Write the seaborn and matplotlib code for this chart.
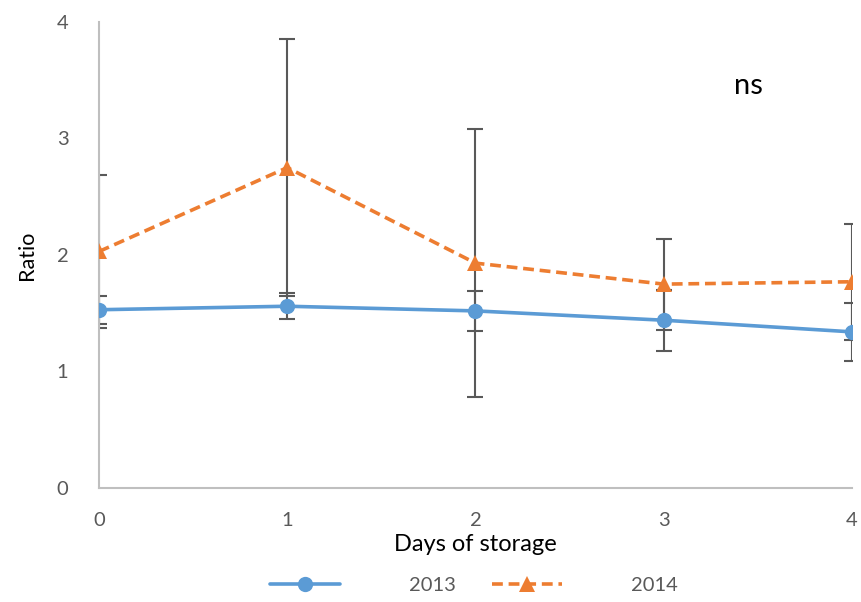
import matplotlib
matplotlib.use("Agg")
import matplotlib.pyplot as plt
import seaborn as sns
import pandas as pd
from matplotlib.lines import Line2D

days = [0, 1, 2, 3, 4]
ratio_2013 = [1.53, 1.56, 1.52, 1.44, 1.34]
err_2013 = [0.12, 0.11, 0.17, 0.26, 0.25]
ratio_2014 = [2.03, 2.75, 1.93, 1.75, 1.77]
err_2014 = [0.66, 1.10, 1.15, 0.39, 0.50]
series_names = ["2013", "2014"]

blue = "#5B9BD5"
orange = "#ED7D31"
grey_text = "#595959"
err_color = "#595959"

sns.set_theme(style="white")
plt.rcParams["font.family"] = ["Lato", "DejaVu Sans"]

df = pd.DataFrame({
    "Day": days * 2,
    "Ratio": ratio_2013 + ratio_2014,
    "Year": [series_names[0]] * len(days) + [series_names[1]] * len(days),
})

fig = plt.figure(figsize=(8.61, 6.02), dpi=100)
ax = fig.add_axes([0.115, 0.1894, 0.8745, 0.7741])

sns.lineplot(data=df, x="Day", y="Ratio", hue="Year", style="Year",
             palette=[blue, orange], dashes=[(None, None), (3, 1.6)],
             markers=["o", "^"], markersize=11, markeredgewidth=0,
             linewidth=2.6, legend=False, ax=ax, zorder=3)

ax.errorbar(days, ratio_2014, yerr=err_2014, fmt="none", ecolor=err_color,
            elinewidth=1.5, capsize=6, capthick=1.5, zorder=2)
ax.errorbar(days, ratio_2013, yerr=err_2013, fmt="none", ecolor=err_color,
            elinewidth=1.5, capsize=6, capthick=1.5, zorder=2)

ax.set_xlim(0, 4)
ax.set_ylim(0, 4)
ax.set_xticks(days)
ax.set_yticks([0, 1, 2, 3, 4])
ax.tick_params(axis="both", length=0, labelsize=14.5, colors=grey_text)
ax.tick_params(axis="x", pad=17)
ax.tick_params(axis="y", pad=22)
for side in ["top", "right"]:
    ax.spines[side].set_visible(False)
for side in ["left", "bottom"]:
    ax.spines[side].set_color("#BFBFBF")
    ax.spines[side].set_linewidth(1.5)

ax.set_xlabel("Days of storage", fontsize=17, color="black", labelpad=4)
ax.set_ylabel("Ratio", fontsize=15.5, color="black", labelpad=14)
ax.text(3.45, 3.45, "ns", fontsize=21, color="black", ha="center", va="center")

handles = [
    Line2D([], [], color=blue, lw=2.6, marker="o", markersize=11, markeredgewidth=0),
    Line2D([], [], color=orange, lw=2.6, ls=(0, (3, 1.6)), marker="^",
           markersize=11, markeredgewidth=0),
]
fig.legend(handles, series_names, loc="center", bbox_to_anchor=(0.55, 0.027),
           ncol=2, frameon=False, fontsize=14.5, handlelength=3.5,
           handletextpad=3.4, columnspacing=1.8, labelcolor=grey_text)

fig.savefig("out.png", dpi=100)
